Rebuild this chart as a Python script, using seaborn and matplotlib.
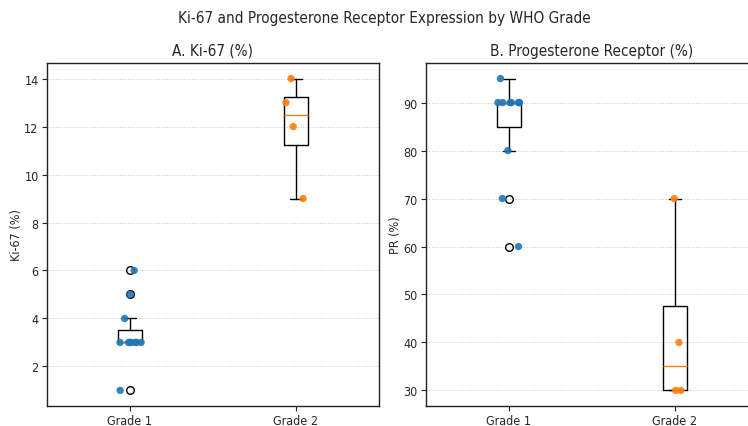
import numpy as np
import pandas as pd
import matplotlib
matplotlib.use("Agg")
import matplotlib.pyplot as plt
import seaborn as sns

# ---- data ----
grades = ["Grade 1", "Grade 2"]
ki67_grade1 = [1, 3, 3, 3, 3, 3, 3, 3, 4, 5, 6]
ki67_grade2 = [9, 12, 13, 14]
pr_grade1 = [60, 70, 80, 90, 90, 90, 90, 90, 90, 90, 95]
pr_grade2 = [30, 30, 40, 70]
colors = ["#1f77b4", "#ff7f0e"]

suptitle = "Ki-67 and Progesterone Receptor Expression by WHO Grade"
titles = ["A. Ki-67 (%)", "B. Progesterone Receptor (%)"]
ylabels = ["Ki-67 (%)", "PR (%)"]

ki_df = pd.DataFrame({
    "Grade": [grades[0]] * len(ki67_grade1) + [grades[1]] * len(ki67_grade2),
    "value": ki67_grade1 + ki67_grade2,
})
pr_df = pd.DataFrame({
    "Grade": [grades[0]] * len(pr_grade1) + [grades[1]] * len(pr_grade2),
    "value": pr_grade1 + pr_grade2,
})

sns.set_style("ticks")
plt.rcParams["font.family"] = ["DejaVu Sans Condensed", "DejaVu Sans"]
plt.rcParams["font.stretch"] = "condensed"
plt.rcParams["font.size"] = 9

fig = plt.figure(figsize=(7.48, 4.27), dpi=100)
ax1 = fig.add_axes([0.0628, 0.0468, 0.4439, 0.8033])
ax2 = fig.add_axes([0.5695, 0.0468, 0.4439, 0.8033])

np.random.seed(7)
for ax, df, g1, g2, title, ylab in [
    (ax1, ki_df, ki67_grade1, ki67_grade2, titles[0], ylabels[0]),
    (ax2, pr_df, pr_grade1, pr_grade2, titles[1], ylabels[1]),
]:
    ax.boxplot([g1, g2], positions=[0, 1], widths=0.15,
               medianprops=dict(color="#ff7f0e", linewidth=1),
               boxprops=dict(linewidth=1, color="black"),
               whiskerprops=dict(linewidth=1, color="black"),
               capprops=dict(linewidth=1, color="black"),
               flierprops=dict(marker="o", markerfacecolor="none",
                               markeredgecolor="black", markersize=5.5))
    sns.stripplot(data=df, x="Grade", y="value", hue="Grade",
                  palette=colors, order=grades, hue_order=grades,
                  jitter=0.07, size=5.3, alpha=0.9, linewidth=0,
                  legend=False, ax=ax)
    ax.set_xlim(-0.5, 1.5)
    ax.set_xticks([0, 1])
    ax.set_xticklabels(grades)
    ax.set_xlabel("")
    ax.set_ylabel(ylab, fontsize=9, labelpad=1)
    ax.set_title(title, fontsize=11)
    ax.grid(axis="y", linestyle=(0, (2, 2)), linewidth=0.5, color="#b0b0b0", alpha=0.8)
    ax.grid(axis="x", visible=False)
    for s in ax.spines.values():
        s.set_visible(True)
        s.set_linewidth(1.0)
        s.set_color("#222222")
    ax.tick_params(labelsize=9, length=3.5, width=0.8, pad=2.5)

fig.suptitle(suptitle, fontsize=11, x=0.514, y=1 - 18 / 427, va="center")
fig.savefig("out.png", dpi=100)
